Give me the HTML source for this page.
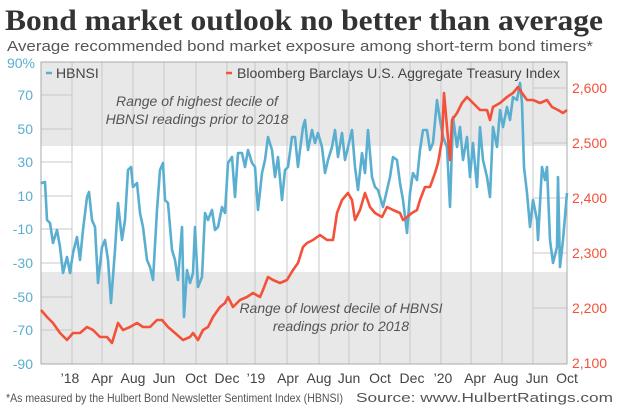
<!DOCTYPE html>
<html><head><meta charset="utf-8"><style>
body{margin:0;background:#fff}
svg{display:block}
text{font-family:"Liberation Sans",sans-serif}
</style></head><body>
<svg width="620" height="412" viewBox="0 0 620 412">
<text x="5" y="30" font-family="Liberation Serif" font-weight="bold" font-size="30" fill="#333" textLength="598" lengthAdjust="spacingAndGlyphs" style="font-family:'Liberation Serif',serif">Bond market outlook no better than average</text>
<text x="7" y="51" font-size="15" fill="#555" textLength="586" lengthAdjust="spacingAndGlyphs">Average recommended bond market exposure among short-term bond timers*</text>
<rect x="41" y="62" width="526" height="84" fill="#e8e8e8"/>
<rect x="41" y="272" width="526" height="92" fill="#e8e8e8"/>
<g stroke="#c8c8c8" stroke-width="1">
<line x1="72" y1="62" x2="72" y2="364"/><line x1="102" y1="62" x2="102" y2="364"/><line x1="133" y1="62" x2="133" y2="364"/><line x1="164" y1="62" x2="164" y2="364"/><line x1="196" y1="62" x2="196" y2="364"/><line x1="227" y1="62" x2="227" y2="364"/><line x1="255" y1="62" x2="255" y2="364"/><line x1="287" y1="62" x2="287" y2="364"/><line x1="319" y1="62" x2="319" y2="364"/><line x1="349" y1="62" x2="349" y2="364"/><line x1="380" y1="62" x2="380" y2="364"/><line x1="410" y1="62" x2="410" y2="364"/><line x1="441" y1="62" x2="441" y2="364"/><line x1="471" y1="62" x2="471" y2="364"/><line x1="502" y1="62" x2="502" y2="364"/><line x1="533" y1="62" x2="533" y2="364"/>
<line x1="41" y1="95" x2="72" y2="95"/><line x1="41" y1="129" x2="72" y2="129"/><line x1="41" y1="162" x2="72" y2="162"/><line x1="41" y1="196" x2="72" y2="196"/><line x1="41" y1="229" x2="72" y2="229"/><line x1="41" y1="263" x2="72" y2="263"/><line x1="41" y1="297" x2="72" y2="297"/><line x1="41" y1="330" x2="72" y2="330"/>
<line x1="533" y1="88" x2="567" y2="88"/><line x1="533" y1="143" x2="567" y2="143"/><line x1="533" y1="198" x2="567" y2="198"/><line x1="533" y1="253" x2="567" y2="253"/><line x1="533" y1="308" x2="567" y2="308"/>
</g>
<rect x="41" y="62" width="526" height="302" fill="none" stroke="#aaa"/>
<g font-size="14" fill="#555" font-style="italic" text-anchor="middle">
<text x="197" y="106">Range of highest decile of</text>
<text x="197" y="124">HBNSI readings prior to 2018</text>
<text x="341" y="313">Range of lowest decile of HBNSI</text>
<text x="341" y="331">readings prior to 2018</text>
</g>
<polyline fill="none" stroke="#5aaed0" stroke-width="2.6" stroke-linejoin="round" points="41,182 42,183 45,182 47,220 50,223 53,243 57,230 60,247 63,273 67,257 70,273 73,253 77,237 80,260 83,230 87,197 89,192 92,220 95,227 98,283 102,247 105,240 108,260 111,303 115,250 118,203 122,240 125,220 128,170 131,167 133,187 137,183 140,213 143,227 147,260 150,267 153,280 157,210 160,170 163,163 165,200 168,203 172,250 175,260 178,280 182,227 184,317 187,270 190,283 193,273 195,227 198,287 202,277 205,213 208,220 212,210 215,230 218,227 222,207 225,213 228,163 232,157 235,197 238,153 242,153 245,167 248,150 252,163 255,167 258,210 262,173 265,160 268,137 272,150 275,177 278,157 282,200 285,170 288,167 292,137 295,137 298,167 300,150 303,127 305,120 308,150 312,130 315,143 318,133 322,147 325,173 328,160 332,147 335,130 338,157 342,133 345,160 348,147 352,130 355,167 358,190 362,153 365,173 368,130 372,177 375,187 378,190 383,207 387,190 390,177 393,157 397,160 400,183 403,200 407,233 410,193 413,173 417,180 420,150 423,130 427,130 430,150 433,143 437,100 440,120 443,137 447,147 450,207 453,117 457,147 460,127 463,160 467,137 470,177 473,143 477,187 480,127 483,160 487,177 490,197 493,127 497,147 500,110 503,127 507,107 510,120 513,97 517,100 520,83 522,103 524,167 527,193 530,227 533,200 537,220 538,240 542,167 545,180 547,167 550,240 553,263 557,247 558,177 560,267 563,240 567,193"/>
<polyline fill="none" stroke="#f4513a" stroke-width="2.6" stroke-linejoin="round" points="41,310 47,317 53,323 60,333 67,340 73,333 80,333 87,327 93,330 100,337 107,337 112,343 118,323 123,330 130,327 137,323 143,327 150,327 157,320 162,320 168,327 175,333 183,340 190,337 193,333 198,340 203,330 208,327 213,317 220,307 225,303 228,297 233,307 240,300 247,297 253,293 260,297 263,290 268,277 273,280 280,283 287,280 293,270 298,263 303,247 307,243 313,240 320,235 327,240 333,240 337,213 342,200 348,193 352,200 355,220 360,210 365,193 370,207 375,213 382,217 387,207 393,210 400,213 403,220 407,217 412,213 417,210 420,200 425,187 430,187 435,173 438,163 442,140 444,93 447,127 450,160 452,120 457,113 462,103 467,97 473,103 480,110 487,110 490,120 493,107 500,103 507,97 513,93 518,87 522,93 527,100 533,100 540,103 547,100 552,107 558,110 563,113 567,110"/>
<line x1="46" y1="73" x2="52" y2="73" stroke="#5aaed0" stroke-width="2.5"/>
<text x="56" y="78" font-size="14" fill="#444">HBNSI</text>
<line x1="226" y1="73" x2="232" y2="73" stroke="#f4513a" stroke-width="2.5"/>
<text x="237" y="78" font-size="14" fill="#444" textLength="323" lengthAdjust="spacingAndGlyphs">Bloomberg Barclays U.S. Aggregate Treasury Index</text>
<g font-size="14" fill="#5aaed0" text-anchor="end">
<text x="35" y="68">90%</text><text x="33" y="100">70</text><text x="33" y="134">50</text><text x="33" y="167">30</text><text x="33" y="201">10</text><text x="33" y="234">-10</text><text x="33" y="268">-30</text><text x="33" y="302">-50</text><text x="33" y="335">-70</text><text x="33" y="369">-90</text>
</g>
<g font-size="14" fill="#f4513a">
<text x="572" y="93">2,600</text><text x="572" y="148">2,500</text><text x="572" y="203">2,400</text><text x="572" y="258">2,300</text><text x="572" y="313">2,200</text><text x="572" y="368">2,100</text>
</g>
<g font-size="14" fill="#444" text-anchor="middle">
<text x="70" y="383">’18</text><text x="102" y="383">Apr</text><text x="133" y="383">Aug</text><text x="164" y="383">Jun</text><text x="196" y="383">Oct</text><text x="227" y="383">Dec</text><text x="256" y="383">’19</text><text x="288" y="383">Apr</text><text x="319" y="383">Aug</text><text x="349" y="383">Jun</text><text x="380" y="383">Oct</text><text x="412" y="383">Dec</text><text x="443" y="383">’20</text><text x="475" y="383">Apr</text><text x="506" y="383">Aug</text><text x="537" y="383">Jun</text><text x="567" y="383">Oct</text>
</g>
<text x="6" y="402" font-size="12" fill="#555" textLength="337" lengthAdjust="spacingAndGlyphs">*As measured by the Hulbert Bond Newsletter Sentiment Index (HBNSI)</text>
<text x="613" y="402" font-size="13" fill="#555" text-anchor="end" textLength="257" lengthAdjust="spacingAndGlyphs">Source: www.HulbertRatings.com</text>
</svg>
</body></html>
